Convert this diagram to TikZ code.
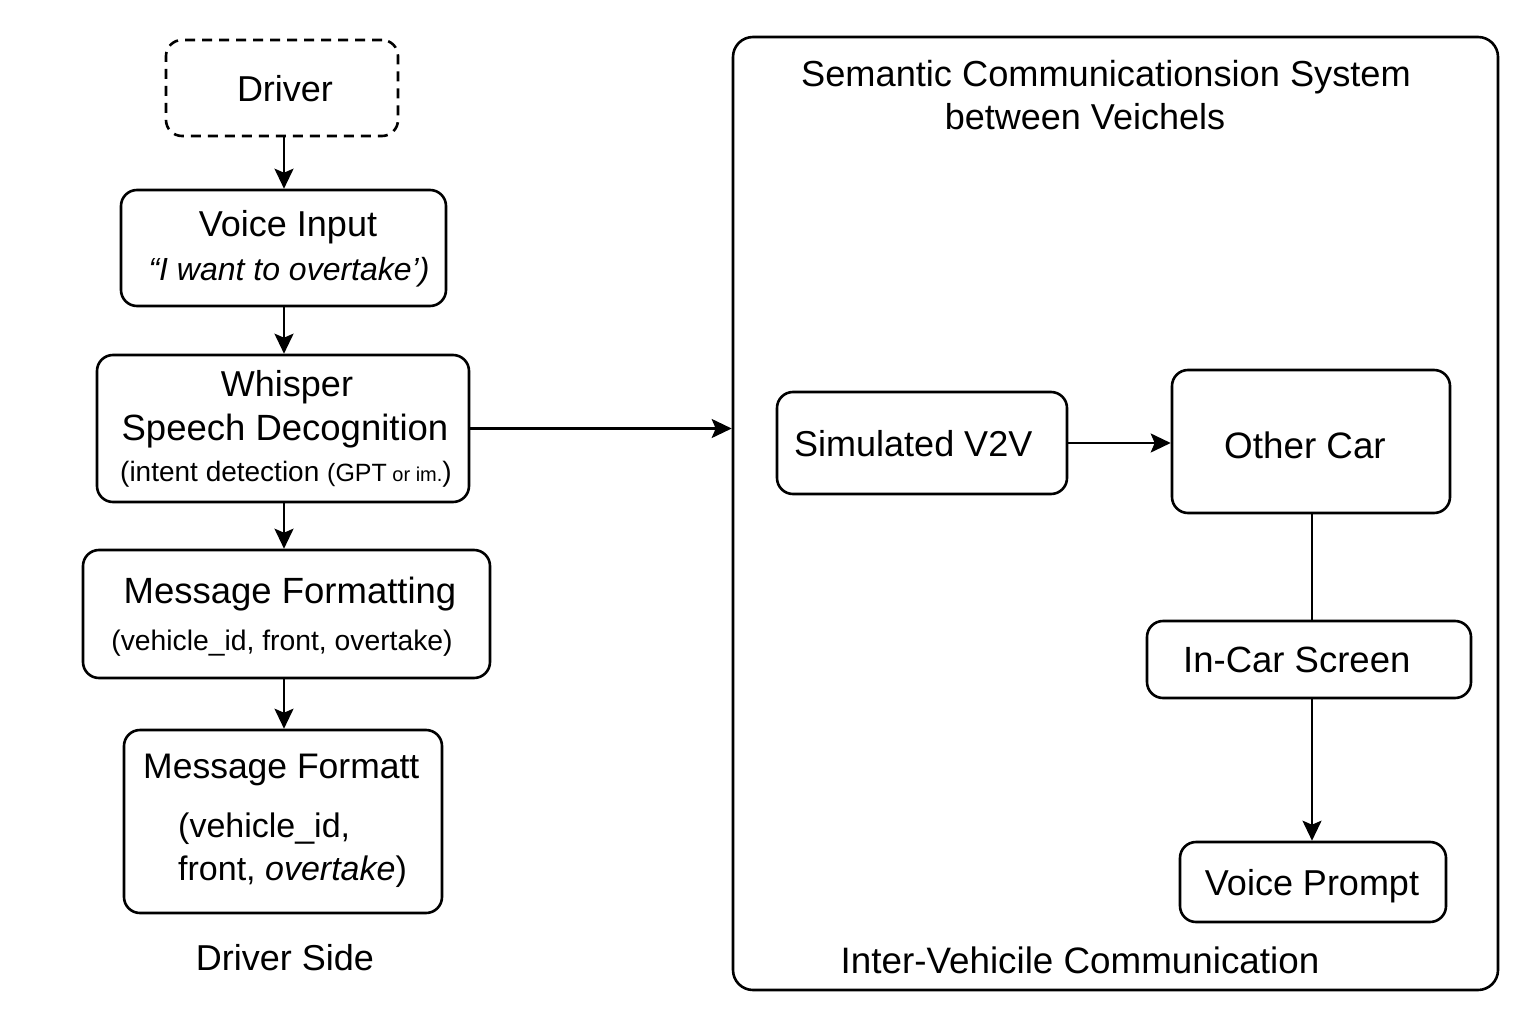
\documentclass[tikz,border=0pt]{standalone}
\usepackage{fontspec}
\setmainfont{Liberation Sans}
\usetikzlibrary{arrows.meta,calc}
\begin{document}
\begin{tikzpicture}[x=1pt,y=-1pt,
  box/.style={draw, line width=2.6pt, rounded corners=16pt, inner sep=0pt},
  dbox/.style={box, dash pattern=on 10pt off 7pt},
  conn/.style={line width=2.4pt},
  arr/.style={conn, -{Stealth[length=20pt,width=19pt,inset=4pt]}},
  txt/.style={inner sep=0pt, anchor=base, font=\fontsize{36}{40}\selectfont},
  txtw/.style={inner sep=0pt, anchor=base west, font=\fontsize{36}{40}\selectfont},
  small/.style={inner sep=0pt, anchor=base, font=\fontsize{28}{32}\selectfont}]
\useasboundingbox[fill=white] (0,0) rectangle (1536,1024);

% left column boxes
\node[dbox, minimum width=232pt, minimum height=96pt] (driver) at (282,88) {};
\node[box, minimum width=325pt, minimum height=116pt] (voice) at (283.5,248) {};
\node[box, minimum width=372pt, minimum height=147pt] (whisper) at (283,428.5) {};
\node[box, minimum width=407pt, minimum height=128pt] (msgfmt) at (286.5,614) {};
\node[box, minimum width=318pt, minimum height=183pt] (msgfmt2) at (283,821.5) {};

% right system box
\node[box, rounded corners=20pt, minimum width=765pt, minimum height=953pt] (sys) at (1115.5,513.5) {};
\node[box, minimum width=290pt, minimum height=102pt] (v2v) at (922,443) {};
\node[box, minimum width=278pt, minimum height=143pt] (other) at (1311,441.5) {};
\node[box, minimum width=324pt, minimum height=77pt] (screen) at (1309,659.5) {};
\node[box, minimum width=266pt, minimum height=80pt] (prompt) at (1313,882) {};

% texts
\node[txt] (tdriver) at (285,102) {Driver};
\node[txt] (tvoice) at (288,237) {Voice Input};
\node[txt, font=\fontsize{32}{36}\selectfont\itshape] (tvoice2) at (289,280) {“I want to overtake’)};
\node[txt] (twhisper) at (287,396) {Whisper};
\node[txt, font=\fontsize{36.5}{40}\selectfont] (tspeech) at (285,440) {Speech Decognition};
\node[small] (tintent) at (286,481) {(intent detection {\fontsize{25}{30}\selectfont(GPT}{\fontsize{20}{30}\selectfont\ or im.})};
\node[txt, font=\fontsize{36.5}{40}\selectfont] (tmsg) at (290,603) {Message Formatting};
\node[small, font=\fontsize{28.3}{32}\selectfont] (tmsg2) at (282,650) {(vehicle\_id, front, overtake)};
\node[txtw, font=\fontsize{35.5}{40}\selectfont] (tmsgb) at (143,778) {Message Formatt};
\node[txtw, font=\fontsize{34}{40}\selectfont] (tmsgb2) at (178,837) {(vehicle\_id,};
\node[txtw, font=\fontsize{34}{40}\selectfont] (tmsgb3) at (178,880) {front, \textit{overtake})};
\node[txt] (tside) at (285,970) {Driver Side};

\node[txt, font=\fontsize{36.2}{40}\selectfont] (ttitle1) at (1106,87) {Semantic Communicationsion System};
\node[txt, font=\fontsize{36}{40}\selectfont] (ttitle2) at (1085,130) {between Veichels};
\node[txtw] (tv2v) at (794,456) {Simulated V2V};
\node[txt, font=\fontsize{36.8}{40}\selectfont] (tother) at (1305,458) {Other Car};
\node[txtw, font=\fontsize{36.5}{40}\selectfont] (tscreen) at (1183,672) {In-Car Screen};
\node[txt] (tprompt) at (1312,895) {Voice Prompt};
\node[txt, font=\fontsize{36.8}{40}\selectfont] (tinter) at (1080,973) {Inter-Vehicile Communication};

% connectors
\draw[arr] (driver.south -| 284,0) -- (voice.north -| 284,0);
\draw[arr] (voice.south -| 284,0) -- (whisper.north -| 284,0);
\draw[arr] (whisper.south -| 284,0) -- (msgfmt.north -| 284,0);
\draw[arr] (msgfmt.south -| 284,0) -- (msgfmt2.north -| 284,0);
\draw[arr] (whisper.east) -- (sys.west |- whisper.east);
\draw[arr] (v2v.east) -- (other.west |- v2v.east);
\draw[conn] (other.south -| 1312,0) -- (screen.north -| 1312,0);
\draw[arr] (screen.south -| 1312,0) -- (prompt.north -| 1312,0);
\end{tikzpicture}
\end{document}
